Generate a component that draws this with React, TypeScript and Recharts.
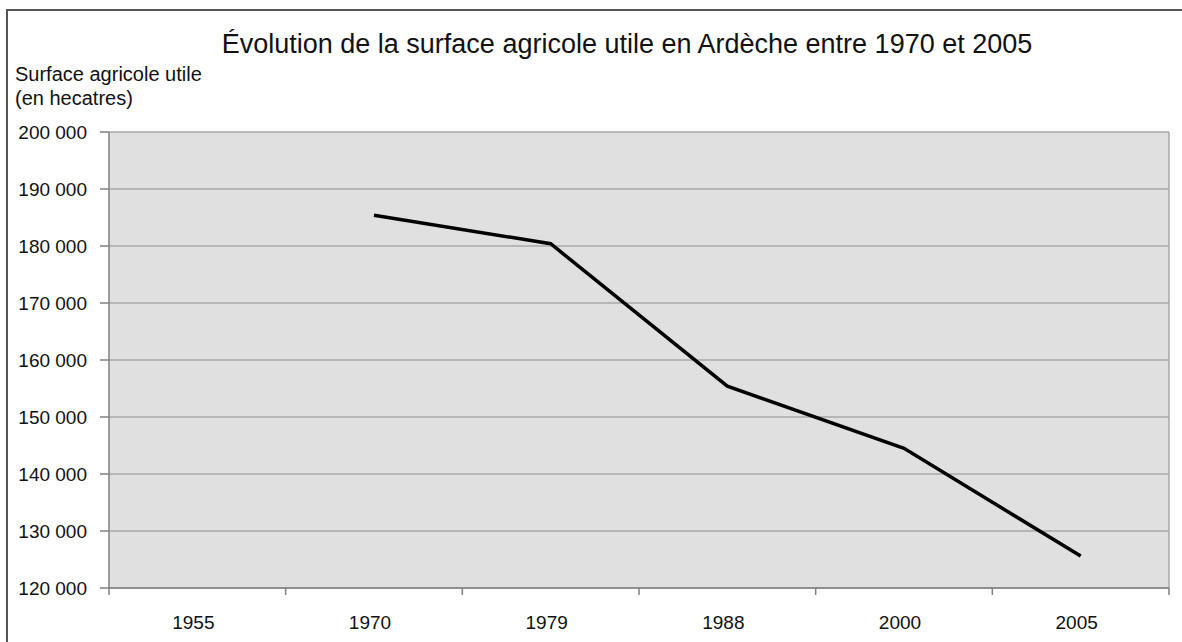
import React from "react";
import { ComposedChart, Line, XAxis, YAxis, CartesianGrid } from "recharts";

// Surface agricole utile (hectares), Ardèche
const years = ["1955", "1970", "1979", "1988", "2000", "2005"];
const surfaces = [null, 185400, 180400, 155400, 144500, 125600];
const yTicks = [120000, 130000, 140000, 150000, 160000, 170000, 180000, 190000, 200000];

const data = years.map((y, i) => ({ year: y, sau: surfaces[i] }));

const WIDTH = 1182;
const HEIGHT = 642;
const YAXIS_W = 109;
const MARGIN = { top: 132, right: 13, bottom: 0, left: 0 };
const PLOT_W = WIDTH - MARGIN.left - MARGIN.right - YAXIS_W;
const BAND = PLOT_W / years.length;
const FONT = "'Liberation Sans', Arial, sans-serif";

const fmt = (v: number) => String(v).replace(/\B(?=(\d{3})+(?!\d))/g, " ");

// ticks sit between categories, labels (slightly left) in the middle
function XTick(props: any) {
  const { x, y, payload, index } = props;
  const half = BAND / 2;
  return (
    <g>
      <line x1={x - half} x2={x - half} y1={y} y2={y + 7} stroke="#808080" strokeWidth={1.5} />
      {index === years.length - 1 && (
        <line x1={x + half} x2={x + half} y1={y} y2={y + 7} stroke="#808080" strokeWidth={1.5} />
      )}
      <text x={x - 4} y={y + 41} textAnchor="middle" fontSize={19} fill="#111" fontFamily={FONT}>
        {payload.value}
      </text>
    </g>
  );
}

export default function App() {
  return (
    <div
      style={{
        position: "absolute",
        left: 0,
        top: 0,
        width: WIDTH,
        height: HEIGHT,
        overflow: "hidden",
        background: "#fff",
        fontFamily: FONT,
      }}
    >
      <div style={{ position: "absolute", left: 0, top: 0 }}>
        <ComposedChart width={WIDTH} height={HEIGHT} data={data} margin={MARGIN}>
          <CartesianGrid
            fill="#e0e0e0"
            stroke="#a8a8a8"
            strokeWidth={1.5}
            verticalPoints={[YAXIS_W + PLOT_W]}
          />
          <XAxis
            dataKey="year"
            scale="band"
            height={54}
            axisLine={{ stroke: "#808080", strokeWidth: 1.5 }}
            tickLine={false}
            tickSize={0}
            tickMargin={0}
            interval={0}
            tick={<XTick />}
          />
          <YAxis
            width={YAXIS_W}
            domain={[120000, 200000]}
            ticks={yTicks}
            tickFormatter={fmt}
            axisLine={{ stroke: "#808080", strokeWidth: 1.5 }}
            tickLine={{ stroke: "#808080", strokeWidth: 1.5 }}
            tickSize={9}
            tickMargin={13}
            tick={{ fontSize: 19, fill: "#111", fontFamily: FONT }}
          />
          <Line
            type="linear"
            dataKey="sau"
            stroke="#000"
            strokeWidth={3.5}
            dot={false}
            activeDot={false}
            isAnimationActive={false}
          />
        </ComposedChart>
      </div>
      <div style={{ position: "absolute", left: 6, top: 9, width: 1300, height: 2, background: "#555" }} />
      <div style={{ position: "absolute", left: 6, top: 9, width: 2, height: 800, background: "#555" }} />
      <div
        style={{
          position: "absolute",
          left: 0,
          width: 1254,
          top: 29,
          textAlign: "center",
          fontSize: 27,
          color: "#111",
          whiteSpace: "nowrap",
        }}
      >
        Évolution de la surface agricole utile en Ardèche entre 1970 et 2005
      </div>
      <div
        style={{
          position: "absolute",
          left: 15,
          top: 62,
          fontSize: 20,
          lineHeight: "24px",
          color: "#111",
        }}
      >
        Surface agricole utile
        <br />
        (en hecatres)
      </div>
    </div>
  );
}
